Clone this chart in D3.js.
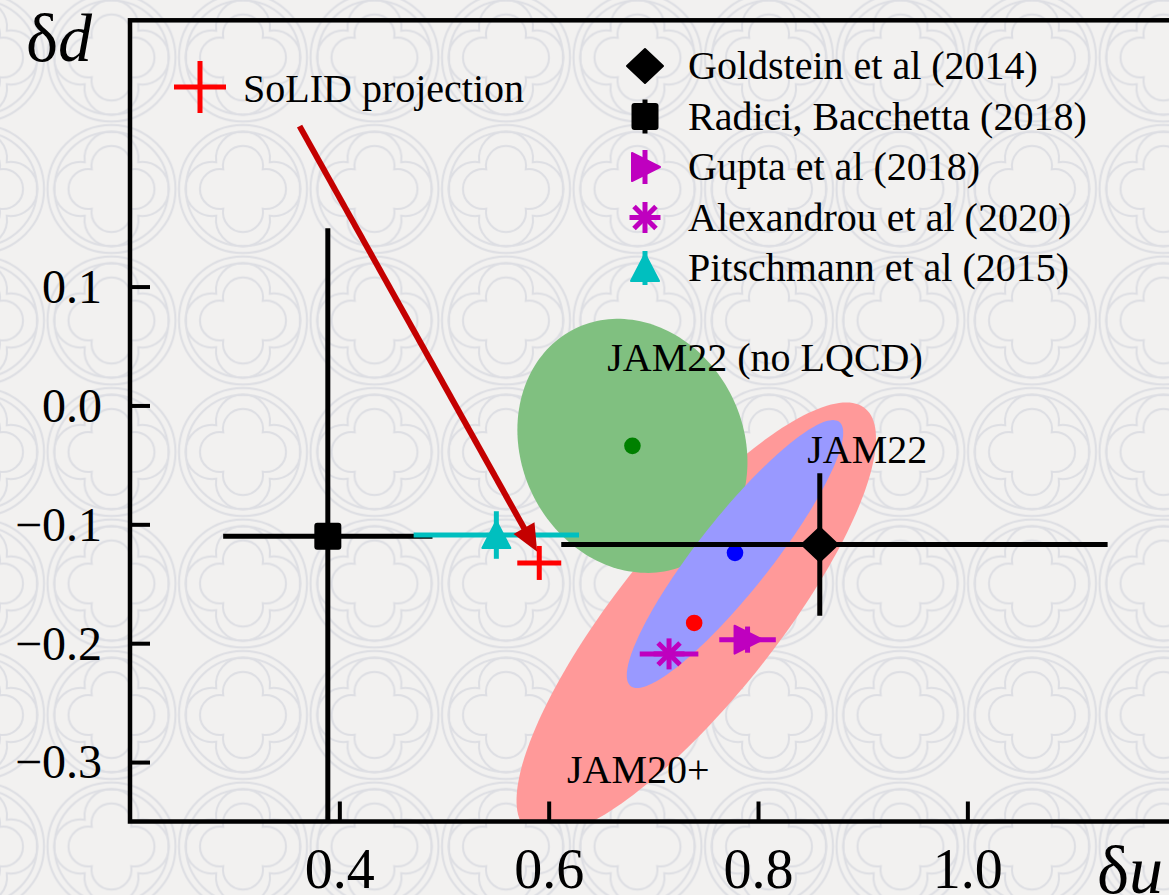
<!DOCTYPE html>
<html>
<head>
<meta charset="utf-8">
<script src="https://cdn.jsdelivr.net/npm/d3@7"></script>
<style>
    html, body { margin: 0; padding: 0; background: #f2f1f0; }
    svg { display: block; }
    text { font-family: "Liberation Serif", "DejaVu Serif", serif; fill: #000; }
</style>
</head>
<body>
<div id="chart"></div>
<script>
// axis ticks
const xTicks = [0.4, 0.6, 0.8, 1.0];
const yTicks = [0.1, 0.0, -0.1, -0.2, -0.3];

// published results: (du, dd) with errors
const refNames = ["Goldstein et al (2014)", "Radici, Bacchetta (2018)", "Gupta et al (2018)",
    "Alexandrou et al (2020)", "Pitschmann et al (2015)"];
const refU = [0.859, 0.389, 0.790, 0.715, 0.550];
const refD = [-0.117, -0.110, -0.197, -0.209, -0.109];
const refUErrLo = [0.247, 0.100, 0.027, 0.028, 0.079];
const refUErrHi = [0.275, 0.100, 0.027, 0.028, 0.079];
const refDErr = [0.060, 0.259, 0.011, 0.000, 0.020];
const refMarkers = ["diamond", "square", "triRight", "star", "triUp"];
const refColors = ["#000000", "#000000", "#bf00bf", "#bf00bf", "#00bfbf"];

// SoLID projection point + arrow
const solidU = [0.591];
const solidD = [-0.1325];
const solidUErr = [0.021];
const solidDErr = [0.0143];
const arrowU = [0.362, 0.589];
const arrowD = [0.235, -0.123];

// JAM fits: mean point, ellipse centre and two conjugate semi-axes (data units)
const jamNames = ["JAM20+", "JAM22 (no LQCD)", "JAM22"];
const jamU = [0.739, 0.680, 0.778];
const jamD = [-0.183, -0.034, -0.124];
const jamEllU = [0.741, 0.680, 0.778];
const jamEllD = [-0.180, -0.034, -0.125];
const jamAxisA = [[0.0946, 0.0], [0.1099, -0.0135], [0.0439, 0.0]];
const jamAxisB = [[0.1433, 0.1825], [0.0, 0.106], [0.0936, 0.1127]];
const jamFill = ["#ff9999", "#80c080", "#9999ff"];
const jamDot = ["#ff0000", "#008000", "#0000ff"];
const jamLabelU = [0.6175, 0.656, 0.847];
const jamLabelD = [-0.318, 0.029, -0.048];

const width = 1169, height = 895;
const pLeft = 130, pTop = 20.3, pRight = 1176.7, pBottom = 821.5;

const svg = d3.select("#chart")
    .append("svg")
    .attr("width", width)
    .attr("height", height);

// gothic tracery background
const defs = svg.append("defs");
const tile = 131.5, c = tile / 2;
const pat = defs.append("pattern")
    .attr("id", "tracery")
    .attr("patternUnits", "userSpaceOnUse")
    .attr("width", tile)
    .attr("height", tile)
    .attr("x", 111.5 - c)
    .attr("y", 57.5 - c);

pat.append("rect").attr("width", tile).attr("height", tile).attr("fill", "#f2f1f0");

function quatrefoil(d, r) {
    let t = (d + Math.sqrt(2 * r * r - d * d)) / 2;
    let p = [[t, -t], [t, t], [-t, t], [-t, -t]];
    let s = `M${c + p[0][0]},${c + p[0][1]}`;
    for (let i = 1; i <= 4; i++) {
        let q = p[i % 4];
        s += `A${r},${r} 0 1 1 ${c + q[0]},${c + q[1]}`;
    }
    return s + "Z";
}

let tg = pat.append("g")
    .attr("fill", "none")
    .attr("stroke", "#dddee3")
    .attr("stroke-width", 2);
tg.append("circle").attr("cx", c).attr("cy", c).attr("r", 64);
tg.append("circle").attr("cx", c).attr("cy", c).attr("r", 57);
tg.append("path").attr("d", quatrefoil(23, 20));
tg.append("path").attr("d", quatrefoil(23, 27));

svg.append("rect")
    .attr("width", width)
    .attr("height", height)
    .attr("fill", "url(#tracery)");

let x = d3.scaleLinear().domain([0.2, 1.2]).range([pLeft, pRight]);
let y = d3.scaleLinear().domain([-0.35, 0.324]).range([pBottom, pTop]);

defs.append("clipPath").attr("id", "plotclip")
    .append("rect")
    .attr("x", pLeft).attr("y", pTop)
    .attr("width", pRight - pLeft).attr("height", pBottom - pTop);

let plot = svg.append("g").attr("clip-path", "url(#plotclip)");

// ellipses
let ellLine = d3.line()
    .x(d => x(d[0]))
    .y(d => y(d[1]))
    .curve(d3.curveLinearClosed);

jamNames.forEach((name, i) => {
    let pts = d3.range(0, 360, 2).map(a => {
        let t = a * Math.PI / 180;
        return [jamEllU[i] + jamAxisA[i][0] * Math.cos(t) + jamAxisB[i][0] * Math.sin(t),
            jamEllD[i] + jamAxisA[i][1] * Math.cos(t) + jamAxisB[i][1] * Math.sin(t)];
    });
    plot.append("path")
        .attr("d", ellLine(pts))
        .attr("fill", jamFill[i]);
});

jamNames.forEach((name, i) => {
    plot.append("circle")
        .attr("cx", x(jamU[i]))
        .attr("cy", y(jamD[i]))
        .attr("r", 8.3)
        .attr("fill", jamDot[i]);
});

function drawMarker(g, type, cx, cy, color) {
    if (type === "diamond") {
        g.append("path")
            .attr("d", `M${cx},${cy - 17}L${cx + 18},${cy}L${cx},${cy + 17}L${cx - 18},${cy}Z`)
            .attr("fill", color).attr("stroke", color).attr("stroke-width", 2).attr("stroke-linejoin", "round");
    } else if (type === "square") {
        g.append("rect")
            .attr("x", cx - 13.5).attr("y", cy - 13.5)
            .attr("width", 27).attr("height", 27)
            .attr("rx", 3)
            .attr("fill", color);
    } else if (type === "triRight") {
        g.append("path")
            .attr("d", `M${cx - 13},${cy - 14}L${cx + 15},${cy}L${cx - 13},${cy + 14}Z`)
            .attr("fill", color).attr("stroke", color).attr("stroke-width", 2).attr("stroke-linejoin", "round");
    } else if (type === "triUp") {
        g.append("path")
            .attr("d", `M${cx},${cy - 14}L${cx + 14},${cy + 13}L${cx - 14},${cy + 13}Z`)
            .attr("fill", color).attr("stroke", color).attr("stroke-width", 2).attr("stroke-linejoin", "round");
    } else if (type === "star") {
        [0, 45, 90, 135].forEach(a => {
            let t = a * Math.PI / 180;
            g.append("line")
                .attr("x1", cx - 15.5 * Math.cos(t)).attr("y1", cy - 15.5 * Math.sin(t))
                .attr("x2", cx + 15.5 * Math.cos(t)).attr("y2", cy + 15.5 * Math.sin(t))
                .attr("stroke", color).attr("stroke-width", 5);
        });
    }
}

// error bars with markers
refNames.forEach((name, i) => {
    let g = plot.append("g");
    g.append("line")
        .attr("x1", x(refU[i] - refUErrLo[i]))
        .attr("x2", x(refU[i] + refUErrHi[i]))
        .attr("y1", y(refD[i]))
        .attr("y2", y(refD[i]))
        .attr("stroke", refColors[i])
        .attr("stroke-width", 5);
    if (refDErr[i] > 0) {
        g.append("line")
            .attr("x1", x(refU[i]))
            .attr("x2", x(refU[i]))
            .attr("y1", y(refD[i] - refDErr[i]))
            .attr("y2", y(refD[i] + refDErr[i]))
            .attr("stroke", refColors[i])
            .attr("stroke-width", 5);
    }
    drawMarker(g, refMarkers[i], x(refU[i]), y(refD[i]), refColors[i]);
});

// arrow to the SoLID point
let ax0 = x(arrowU[0]), ay0 = y(arrowD[0]);
let ax1 = x(arrowU[1]), ay1 = y(arrowD[1]);
let len = Math.hypot(ax1 - ax0, ay1 - ay0);
let ux = (ax1 - ax0) / len, uy = (ay1 - ay0) / len;
let headL = 27, headW = 12;
let bx = ax1 - ux * headL, by = ay1 - uy * headL;
plot.append("line")
    .attr("x1", ax0).attr("y1", ay0)
    .attr("x2", bx + ux * 2).attr("y2", by + uy * 2)
    .attr("stroke", "#c40000")
    .attr("stroke-width", 6);
plot.append("path")
    .attr("d", `M${ax1},${ay1}L${bx - uy * headW},${by + ux * headW}L${bx + uy * headW},${by - ux * headW}Z`)
    .attr("fill", "#c40000");

// SoLID projection
solidU.forEach((u, i) => {
    plot.append("line")
        .attr("x1", x(u - solidUErr[i])).attr("x2", x(u + solidUErr[i]))
        .attr("y1", y(solidD[i])).attr("y2", y(solidD[i]))
        .attr("stroke", "#ff0000").attr("stroke-width", 5);
    plot.append("line")
        .attr("x1", x(u)).attr("x2", x(u))
        .attr("y1", y(solidD[i] - solidDErr[i])).attr("y2", y(solidD[i] + solidDErr[i]))
        .attr("stroke", "#ff0000").attr("stroke-width", 5);
});

// JAM labels
jamNames.forEach((name, i) => {
    svg.append("text")
        .attr("x", x(jamLabelU[i]))
        .attr("y", y(jamLabelD[i]))
        .style("font-size", "40px")
        .text(name);
});

// axes
let xAxis = d3.axisBottom(x)
    .tickValues(xTicks)
    .tickFormat(d3.format(".1f"))
    .tickSizeInner(-20)
    .tickSizeOuter(0)
    .tickPadding(27);

let yAxis = d3.axisLeft(y)
    .tickValues(yTicks)
    .tickFormat(d3.format(".1f"))
    .tickSizeInner(-20)
    .tickSizeOuter(0)
    .tickPadding(28);

let gx = svg.append("g")
    .attr("transform", "translate(0," + pBottom + ")")
    .call(xAxis);
gx.select(".domain").remove();
gx.selectAll(".tick line").attr("stroke", "#000").attr("stroke-width", 4);
gx.selectAll(".tick text")
    .attr("fill", "#000")
    .style("font-family", "'Liberation Serif', serif")
    .style("font-size", "56px");

let gy = svg.append("g")
    .attr("transform", "translate(" + pLeft + ",0)")
    .call(yAxis);
gy.select(".domain").remove();
gy.selectAll(".tick line").attr("stroke", "#000").attr("stroke-width", 4);
gy.selectAll(".tick text")
    .attr("fill", "#000")
    .attr("dy", "0.33em")
    .style("font-family", "'Liberation Serif', serif")
    .style("font-size", "48px");

// frame
svg.append("rect")
    .attr("x", pLeft).attr("y", pTop)
    .attr("width", pRight - pLeft).attr("height", pBottom - pTop)
    .attr("fill", "none")
    .attr("stroke", "#000")
    .attr("stroke-width", 4.5);

// axis titles
let tY = svg.append("text").attr("x", 26).attr("y", 61).style("font-size", "68px");
tY.append("tspan").text("δ");
tY.append("tspan").style("font-style", "italic").text("d");

let tX = svg.append("text").attr("x", 1097).attr("y", 893).style("font-size", "68px");
tX.append("tspan").text("δ");
tX.append("tspan").style("font-style", "italic").text("u");

// legend: SoLID entry
let leg0 = svg.append("g");
leg0.append("line").attr("x1", 174).attr("x2", 226).attr("y1", 87).attr("y2", 87)
    .attr("stroke", "#ff0000").attr("stroke-width", 5);
leg0.append("line").attr("x1", 200).attr("x2", 200).attr("y1", 61).attr("y2", 113)
    .attr("stroke", "#ff0000").attr("stroke-width", 5);
leg0.append("text").attr("x", 243).attr("y", 102).style("font-size", "40px").text("SoLID projection");

// legend: published results
let leg = svg.append("g");
refNames.forEach((name, i) => {
    let base = 79 + i * 50.5;
    let cy = base - 13;
    if (refDErr[i] > 0 && i > 0) {
        leg.append("line")
            .attr("x1", 645).attr("x2", 645)
            .attr("y1", cy - 17).attr("y2", cy + 17)
            .attr("stroke", refColors[i]).attr("stroke-width", 5);
    }
    drawMarker(leg, refMarkers[i], 645, cy, refColors[i]);
    leg.append("text")
        .attr("x", 688)
        .attr("y", base)
        .style("font-size", "40px")
        .text(name);
});
</script>
</body>
</html>
